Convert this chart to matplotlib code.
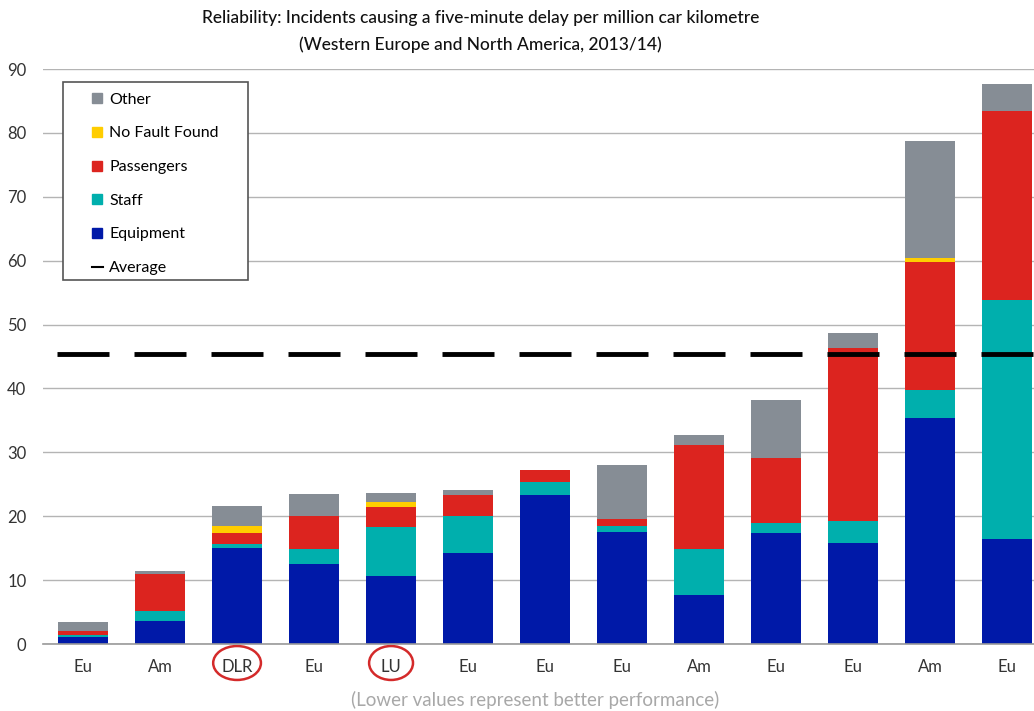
import matplotlib.pyplot as plt
import matplotlib.transforms as mtransforms
import numpy as np
from matplotlib.lines import Line2D
from matplotlib.patches import Ellipse, Rectangle

plt.rcParams['font.family'] = ['Lato', 'DejaVu Sans']

# values
regions = ['Eu', 'Am', 'DLR', 'Eu', 'LU', 'Eu', 'Eu', 'Eu', 'Am', 'Eu', 'Eu', 'Am', 'Eu']
equipment = [1.1, 3.6, 15.1, 12.6, 10.7, 14.3, 23.4, 17.5, 7.6, 17.4, 15.8, 35.4, 16.5]
staff = [0.3, 1.5, 0.5, 2.3, 7.6, 5.7, 2.0, 1.0, 7.2, 1.5, 3.4, 4.3, 37.4]
passengers = [0.6, 5.8, 1.8, 5.1, 3.2, 3.3, 1.8, 1.0, 16.3, 10.2, 27.2, 20.1, 29.6]
no_fault = [0, 0, 1.1, 0, 0.8, 0, 0, 0, 0, 0, 0, 0.6, 0]
other = [1.5, 0.6, 3.1, 3.5, 1.4, 0.8, 0, 8.5, 1.6, 9.1, 2.3, 18.4, 4.1]
average = 45.4
highlight = ['DLR', 'LU']

colors = {
    'Equipment': '#0019a8',
    'Staff': '#00afad',
    'Passengers': '#dc241f',
    'No Fault Found': '#ffcd00',
    'Other': '#868d95',
}

fig = plt.figure(figsize=(10.34, 7.11), dpi=100)
ax = fig.add_axes([0.0416, 0.0942, 0.9584, 0.8087])

x = np.arange(len(regions))
width = 0.65
bottom = np.zeros(len(regions))
for name, vals in [('Equipment', equipment), ('Staff', staff), ('Passengers', passengers),
                   ('No Fault Found', no_fault), ('Other', other)]:
    vals = np.array(vals)
    ax.bar(x, vals, width, bottom=bottom, color=colors[name], zorder=2)
    bottom += vals

ax.hlines([average] * len(x), x - 0.34, x + 0.34, color='black', lw=3.5, zorder=3)

ax.set_xlim(-0.52, 12.35)
ax.set_ylim(0, 90)
ax.set_yticks(range(0, 91, 10))
ax.grid(axis='y', color='#b4b4b4', lw=1, zorder=0)
for s in ['left', 'right', 'top']:
    ax.spines[s].set_visible(False)
ax.spines['bottom'].set_color('#999999')
ax.spines['bottom'].set_linewidth(1.2)
ax.tick_params(length=0, labelsize=12, colors='#333333')
ax.tick_params(axis='y', pad=12)
ax.tick_params(axis='x', pad=11)
ax.set_xticks(x)
ax.set_xticklabels(regions)

# red rings round DLR and LU
trans = mtransforms.blended_transform_factory(ax.transData, ax.transAxes)
for i, r in enumerate(regions):
    if r in highlight:
        w = 0.62 if r == 'DLR' else 0.57
        ax.add_patch(Ellipse((i, -0.033), w, 0.059, transform=trans, fill=False,
                             edgecolor='#d42a2a', lw=1.8, clip_on=False))

# legend with its own frame
ax.add_patch(Rectangle((0.0202, 0.633), 0.1867, 0.344, transform=ax.transAxes,
                       facecolor='white', edgecolor='#555555', lw=1.2, zorder=4))
handles = [Line2D([], [], marker='s', ls='none', color=colors[n], markersize=7)
           for n in ['Other', 'No Fault Found', 'Passengers', 'Staff', 'Equipment']]
handles.append(Line2D([], [], color='black', lw=1.5))
labels = ['Other', 'No Fault Found', 'Passengers', 'Staff', 'Equipment', 'Average']
leg = ax.legend(handles, labels, loc='upper left', bbox_to_anchor=(0.049, 0.959),
                frameon=False, fontsize=11.5, labelspacing=1.22, handlelength=0.7,
                handletextpad=0.4, borderpad=0, borderaxespad=0)
leg.set_zorder(5)

fig.text(0.465, 0.975, 'Reliability: Incidents causing a five-minute delay per million car kilometre',
         ha='center', va='center', fontsize=12.5, color='#111111', fontweight='medium')
fig.text(0.465, 0.937, '(Western Europe and North America, 2013/14)',
         ha='center', va='center', fontsize=12.5, color='#111111', fontweight='medium')
fig.text(0.518, 0.015, '(Lower values represent better performance)',
         ha='center', va='center', fontsize=13.5, color='#a8a8a8')

fig.savefig('out.png', dpi=100)
